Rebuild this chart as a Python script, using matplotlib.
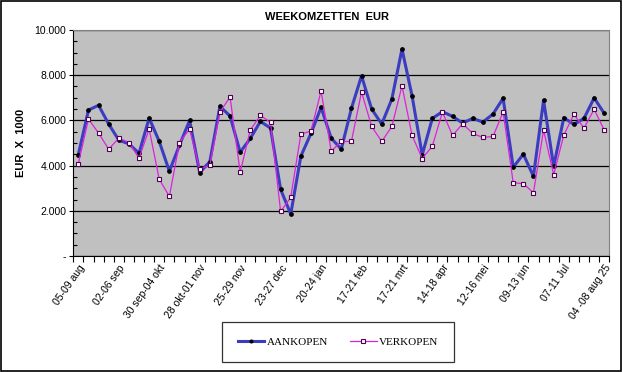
import matplotlib
matplotlib.use("Agg")
import matplotlib.pyplot as plt
from matplotlib.ticker import MultipleLocator, FixedLocator
from matplotlib.patches import Rectangle

# weekly turnover, EUR x 1000
aankopen = [4489, 6459, 6667, 5837, 5126, 4963, 4548, 6104, 5067, 3748,
            4904, 6000, 3689, 4178, 6622, 6193, 4593, 5200, 5956, 5659,
            2948, 1852, 4415, 5422, 6578, 5215, 4726, 6533, 7970, 6504,
            5837, 6948, 9156, 7081, 4474, 6089, 6385, 6178, 5881, 6089,
            5926, 6281, 6978, 3926, 4504, 3526, 6889, 3970, 6119, 5822,
            6089, 6993, 6311]
verkopen = [4089, 6059, 5437, 4726, 5215, 5022, 4326, 5615, 3393, 2637,
            5022, 5615, 3837, 4015, 6370, 7037, 3704, 5570, 6222, 5911,
            1970, 2593, 5393, 5526, 7304, 4637, 5067, 5067, 7259, 5733,
            5067, 5733, 7526, 5333, 4311, 4859, 6370, 5333, 5852, 5422,
            5244, 5289, 6370, 3244, 3200, 2800, 5570, 3600, 5348, 6267,
            5659, 6489, 5570]
week_labels = ["05-09 aug", "02-06 sep", "30 sep-04 okt", "28 okt-01 nov",
               "25-29 nov", "23-27 dec", "20-24 jan", "17-21 feb",
               "17-21 mrt", "14-18 apr", "12-16 mei", "09-13 jun",
               "07-11 Jul", "04 -08 aug 25"]
y_ticks = [0, 2000, 4000, 6000, 8000, 10000]
y_ticklabels = ["-", "2.000", "4.000", "6.000", "8.000", "10.000"]

W, H = 623, 372
fig = plt.figure(figsize=(W / 100, H / 100), dpi=100)
ax = fig.add_axes([73.3 / W, 1 - 256 / H, (609.3 - 73.3) / W, (256 - 30) / H])
ax.set_facecolor("#C0C0C0")

x = list(range(len(aankopen)))
ax.plot(x, aankopen, color="#3C3CC0", lw=2.2, marker="o", ms=2.4,
        mfc="black", mec="black", label="AANKOPEN", zorder=3)
ax.plot(x, verkopen, color="#E020E0", lw=0.9, marker="s", ms=3.0,
        mfc="white", mec="#500050", mew=0.8, label="VERKOPEN", zorder=4)

ax.set_xlim(-0.5, len(x) - 0.5)
ax.set_ylim(0, 10000)

ax.set_yticks(y_ticks)
ax.set_yticklabels(y_ticklabels, fontsize=7.5, family="Liberation Sans")
ax.yaxis.set_minor_locator(MultipleLocator(500))
ax.tick_params(axis="y", which="major", direction="out", length=3, width=0.8, pad=2)
ax.tick_params(axis="y", which="minor", direction="in", length=3, width=0.8)
ax.grid(axis="y", which="major", color="black", lw=0.9)
ax.set_axisbelow(True)

ax.xaxis.set_major_locator(FixedLocator(x[::4]))
ax.set_xticklabels(week_labels, rotation=55, ha="right", va="top",
                   rotation_mode="anchor", fontsize=7.5, family="Liberation Sans")
ax.xaxis.set_minor_locator(FixedLocator([i - 0.5 for i in range(len(x) + 1)]))
ax.tick_params(axis="x", which="major", length=0, pad=5)
ax.tick_params(axis="x", which="minor", direction="out", length=4, width=0.8)

for side in ["top", "right"]:
    ax.spines[side].set_color("#808080")
for side in ["left", "bottom"]:
    ax.spines[side].set_color("black")

fig.text(327 / W, 1 - 17 / H, "WEEKOMZETTEN  EUR", ha="center", va="center",
         fontsize=8, fontweight="bold", family="Liberation Sans")
fig.text(21 / W, 1 - 143 / H, "EUR  X  1000", ha="center", va="center",
         rotation=90, fontsize=8, fontweight="bold", family="Liberation Sans")

leg = fig.legend(loc="center", bbox_to_anchor=(338 / W, 1 - 342 / H), ncol=2,
                 prop={"family": "Liberation Serif", "size": 8},
                 frameon=True, fancybox=False, edgecolor="black",
                 borderpad=1.4, handlelength=2.4, handletextpad=0.2,
                 columnspacing=2.0, markerscale=0.8)
leg.get_frame().set_linewidth(0.9)

fig.patches.append(Rectangle((0.002, 0.004), 0.994, 0.992, transform=fig.transFigure,
                             fill=False, edgecolor="black", lw=1.2))

fig.savefig("out.png", dpi=100)
